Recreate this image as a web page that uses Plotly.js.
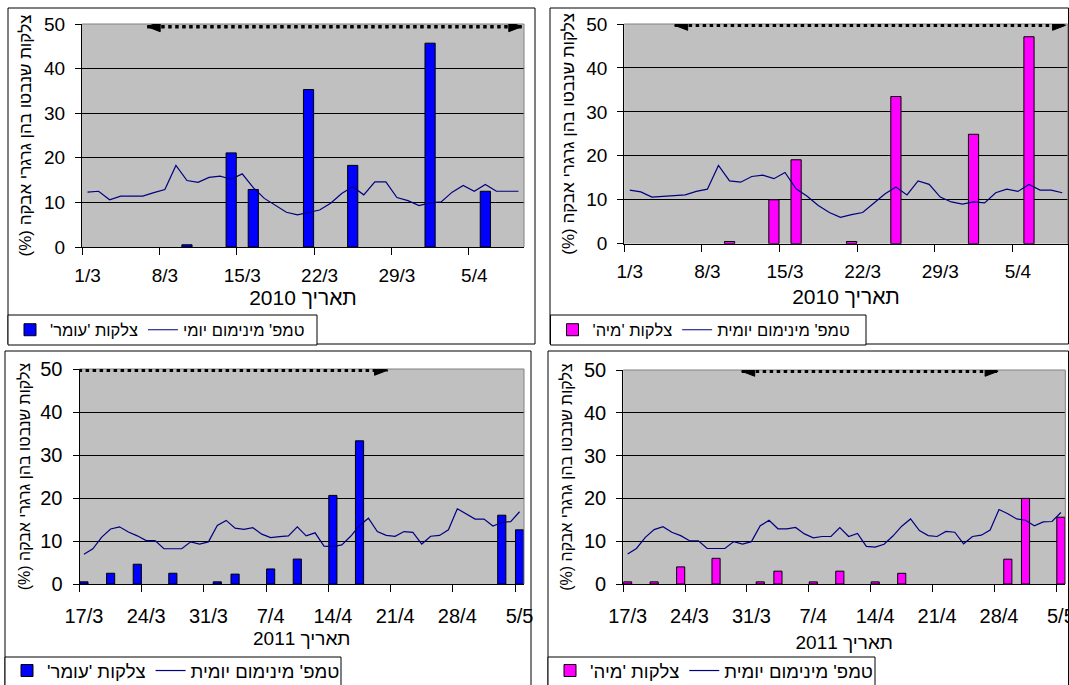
<!DOCTYPE html>
<html><head><meta charset="utf-8">
<script src="https://cdn.plot.ly/plotly-3.0.1.min.js"></script>
<style>html,body{margin:0;padding:0;background:#fff;overflow:hidden}#chart{width:1069px;height:685px}</style>
</head><body><div id="chart"></div>
<script>
// ---------- DATA ----------
const dates2010 = ['1/3','2/3','3/3','4/3','5/3','6/3','7/3','8/3','9/3','10/3','11/3','12/3','13/3','14/3','15/3','16/3','17/3','18/3','19/3','20/3','21/3','22/3','23/3','24/3','25/3','26/3','27/3','28/3','29/3','30/3','31/3','1/4','2/4','3/4','4/4','5/4','6/4','7/4','8/4','9/4'];
const dates2011 = ['17/3','18/3','19/3','20/3','21/3','22/3','23/3','24/3','25/3','26/3','27/3','28/3','29/3','30/3','31/3','1/4','2/4','3/4','4/4','5/4','6/4','7/4','8/4','9/4','10/4','11/4','12/4','13/4','14/4','15/4','16/4','17/4','18/4','19/4','20/4','21/4','22/4','23/4','24/4','25/4','26/4','27/4','28/4','29/4','30/4','1/5','2/5','3/5','4/5','5/5'];

const tempOmer2010 = [12.3,12.5,10.6,11.4,11.4,11.4,12.2,12.9,18.3,14.9,14.5,15.6,15.9,15.2,16.4,13.3,10.9,9.3,7.8,7.2,7.8,8.3,9.8,12.0,13.5,11.7,14.6,14.6,11.1,10.4,9.3,9.9,10.1,12.3,13.8,12.5,14.0,12.5,12.5,12.5];
const tempMia2010 = [12.2,11.8,10.6,10.8,11.0,11.1,11.9,12.4,17.8,14.3,14.0,15.3,15.6,14.8,16.2,12.5,10.8,8.7,7.1,6.0,6.6,7.1,9.2,11.3,12.9,11.1,14.3,13.5,10.6,9.5,9.0,9.5,9.3,11.6,12.4,11.9,13.5,12.2,12.2,11.6];
const tempOmer2011 = [6.9,8.2,10.9,12.8,13.3,12.1,11.2,10.1,10.1,8.2,8.2,8.2,9.8,9.3,9.8,13.6,14.8,13.0,12.7,13.1,11.6,10.8,11.0,11.2,13.3,11.2,11.9,8.8,8.7,9.1,11.1,13.6,15.3,12.2,11.3,11.1,12.2,12.0,9.3,11.1,11.3,12.6,17.5,16.3,15.1,15.1,13.5,14.3,14.5,16.8];
const tempMia2011 = [7.0,8.3,10.9,12.7,13.4,12.1,11.3,10.1,10.1,8.3,8.3,8.3,9.9,9.3,9.9,13.6,14.9,12.9,12.9,13.2,11.7,10.8,11.1,11.1,13.2,11.1,11.8,8.8,8.6,9.3,11.2,13.5,15.2,12.5,11.3,11.1,12.3,12.1,9.4,11.1,11.4,12.6,17.4,16.4,15.2,14.9,13.6,14.5,14.6,16.7];

const barDatesOmer2010 = ['10/3','14/3','16/3','21/3','25/3','1/4','6/4'];
const barValsOmer2010  = [0.5,21.1,12.9,35.3,18.3,45.7,12.5];
const barDatesMia2010  = ['10/3','14/3','16/3','21/3','25/3','1/4','6/4'];
const barValsMia2010   = [0.5,10.0,19.1,0.5,33.5,24.9,47.1];
const barDatesOmer2011 = ['17/3','20/3','23/3','27/3','1/4','3/4','7/4','10/4','14/4','17/4','3/5','5/5'];
const barValsOmer2011  = [0.5,2.5,4.6,2.5,0.5,2.3,3.5,5.8,20.6,33.3,16.0,12.6];
const barDatesMia2011  = ['17/3','20/3','23/3','27/3','1/4','3/4','7/4','10/4','14/4','17/4','29/4','1/5','5/5'];
const barValsMia2011   = [0.5,0.5,4.0,6.0,0.5,3.0,0.5,3.0,0.5,2.5,5.8,20.0,15.6];

const yTickVals = [0,10,20,30,40,50];

const nameOmer = "צלקות 'עומר'\u200F";
const nameMia = "צלקות 'מיה'\u200F";
const nameTempA = "טמפ' מינימום יומי";
const nameTempB = "טמפ' מינימום יומית";
const yTitleText = "צלקות שנבטו בהן גרגרי אבקה (%)\u200F";
const xTitle2010 = "תאריך 2010";
const xTitle2011 = "תאריך 2011";

// ---------- LAYOUT HELPERS ----------
const W = 1069, H = 685;
const fx = v => v / W, fy = v => 1 - v / H;
const FONT = 'Liberation Sans, Arial, sans-serif';
const BLUE = '#0000FF', MAGENTA = '#FF00FF', NAVY = '#000080';

const panels = [
  {x0:82,   x1:524,    y0:24,  y1:247,   cats:dates2010, bars:[barDatesOmer2010,barValsOmer2010], temp:tempOmer2010, barName:nameOmer, tempName:nameTempA, color:BLUE,
   xtitle:xTitle2010, tick:19, xlso:11, xts:21, yts:17, leg:16.5, frame:[8,8,535,344], legBox:[8,315,317,345], legY:330, arrow:[5.4,39.3,49.4,true,true], xstand:5, ystand:8},
  {x0:624.2,x1:1067.8, y0:24,  y1:243.7, cats:dates2010, bars:[barDatesMia2010,barValsMia2010], temp:tempMia2010, barName:nameMia, tempName:nameTempB, color:MAGENTA,
   xtitle:xTitle2010, tick:19, xlso:10, xts:21, yts:17, leg:16.5, frame:[550,8,1068.5,344], legBox:[550.5,315,866,345], legY:330, arrow:[4.05,39.3,49.7,true,true], xstand:8.5, ystand:7},
  {x0:79.5, x1:524,    y0:369, y1:584,   cats:dates2011, bars:[barDatesOmer2011,barValsOmer2011], temp:tempOmer2011, barName:nameOmer, tempName:nameTempB, color:BLUE,
   xtitle:xTitle2011, tick:20, xlso:14, xts:19, yts:16, leg:18.5, frame:[5,351,531,700], legBox:[5,657,341,700], legY:671, arrow:[-0.6,34.15,49.7,false,true], xstand:5, ystand:5.5},
  {x0:623.2,x1:1065.3, y0:370, y1:584,   cats:dates2011, bars:[barDatesMia2011,barValsMia2011], temp:tempMia2011, barName:nameMia, tempName:nameTempB, color:MAGENTA,
   xtitle:xTitle2011, tick:20, xlso:14, xts:19, yts:16, leg:18.5, frame:[548,351,1068.5,700], legBox:[548,657,875,700], legY:671, arrow:[12.9,41.9,49.7,true,true], xstand:8.8, ystand:7}
];

const data = [];
const layout = {
  width: W, height: H,
  margin: {l:0, r:0, t:0, b:0, pad:0, autoexpand:false},
  paper_bgcolor: '#FFFFFF',
  plot_bgcolor: '#C0C0C0',
  font: {family: FONT, color: '#000'},
  showlegend: true,
  hovermode: false,
  barmode: 'overlay',
  shapes: [],
};

panels.forEach((p, i) => {
  const n = i === 0 ? '' : String(i + 1);
  const xa = 'x' + n, ya = 'y' + n;
  const legId = 'legend' + n;

  layout['xaxis' + n] = {
    type: 'category', categoryorder: 'array', categoryarray: p.cats,
    domain: [fx(p.x0), fx(p.x1)], anchor: ya,
    range: [-0.5, p.cats.length - 0.5],
    tickmode: 'linear', tick0: 0, dtick: 7, tickson: 'boundaries',
    ticks: 'outside', ticklen: 7, tickwidth: 1, tickcolor: '#000',
    showline: true, linecolor: '#000', linewidth: 1,
    showgrid: false, zeroline: false, tickangle: 0,
    tickfont: {family: FONT, size: p.tick, color: '#000'},
    ticklabelstandoff: p.xlso,
    title: {text: p.xtitle, font: {family: FONT, size: p.xts, color: '#000'}, standoff: p.xstand},
    automargin: false, fixedrange: true
  };
  layout['yaxis' + n] = {
    domain: [fy(p.y1), fy(p.y0)], anchor: xa,
    range: [0, 50], tickmode: 'array', tickvals: yTickVals,
    ticks: 'outside', ticklen: 6, tickwidth: 1, tickcolor: '#000',
    showline: true, linecolor: '#000', linewidth: 1,
    showgrid: true, gridcolor: '#000', gridwidth: 1, zeroline: false,
    tickfont: {family: FONT, size: p.tick, color: '#000'},
    ticklabelstandoff: 6,
    title: {text: yTitleText, font: {family: FONT, size: p.yts, color: '#000'}, standoff: p.ystand},
    automargin: false, fixedrange: true
  };
  layout[legId] = {
    x: fx(p.legBox[0] + 2), y: fy(p.legY), xanchor: 'left', yanchor: 'middle',
    xref: 'paper', yref: 'paper',
    orientation: 'h', bgcolor: 'rgba(0,0,0,0)', borderwidth: 0,
    font: {family: FONT, size: p.leg, color: '#000'},
    itemwidth: 30, traceorder: 'normal', tracegroupgap: 0
  };

  data.push({
    type: 'bar', name: p.barName, x: p.bars[0], y: p.bars[1],
    xaxis: xa, yaxis: ya, legend: legId, width: 0.92,
    marker: {color: p.color, line: {color: '#000', width: 1}}
  });
  data.push({
    type: 'scatter', mode: 'lines', name: p.tempName, x: p.cats, y: p.temp,
    xaxis: xa, yaxis: ya, legend: legId,
    line: {color: NAVY, width: 1.2}
  });

  // frame
  const f = p.frame;
  layout.shapes.push({type:'rect', xref:'paper', yref:'paper', x0:fx(f[0]), x1:fx(f[2]), y0:fy(f[3]), y1:fy(f[1]),
    line:{color:'#000', width:1}, fillcolor:'rgba(0,0,0,0)', layer:'below'});
  // legend box
  const b = p.legBox;
  layout.shapes.push({type:'rect', xref:'paper', yref:'paper', x0:fx(b[0]), x1:fx(b[2]), y0:fy(b[3]), y1:fy(b[1]),
    line:{color:'#000', width:1}, fillcolor:'#FFFFFF', layer:'below'});
  // plot area border (top & right, gray)
  layout.shapes.push({type:'line', xref:'paper', yref:'paper', x0:fx(p.x0), x1:fx(p.x1), y0:fy(p.y0), y1:fy(p.y0),
    line:{color:'#808080', width:1}, layer:'above'});
  layout.shapes.push({type:'line', xref:'paper', yref:'paper', x0:fx(p.x1), x1:fx(p.x1), y0:fy(p.y0), y1:fy(p.y1),
    line:{color:'#808080', width:1}, layer:'above'});
  // dotted double arrow
  const a = p.arrow;
  layout.shapes.push({type:'line', xref:xa, yref:ya, x0:a[0], x1:a[1], y0:a[2], y1:a[2],
    line:{color:'#000', width:3.5, dash:'dot'}, layer:'above'});
  if (a[3]) layout.shapes.push({type:'path', xref:xa, yref:ya, xsizemode:'pixel', ysizemode:'pixel',
    xanchor:a[0], yanchor:a[2], path:'M0,0L13,5L13,-5Z', fillcolor:'#000', line:{color:'#000', width:1}, layer:'above'});
  if (a[4]) layout.shapes.push({type:'path', xref:xa, yref:ya, xsizemode:'pixel', ysizemode:'pixel',
    xanchor:a[1], yanchor:a[2], path:'M0,0L-13,5L-13,-5Z', fillcolor:'#000', line:{color:'#000', width:1}, layer:'above'});
});

Plotly.newPlot('chart', data, layout, {staticPlot: true, displayModeBar: false});
</script>
</body></html>
